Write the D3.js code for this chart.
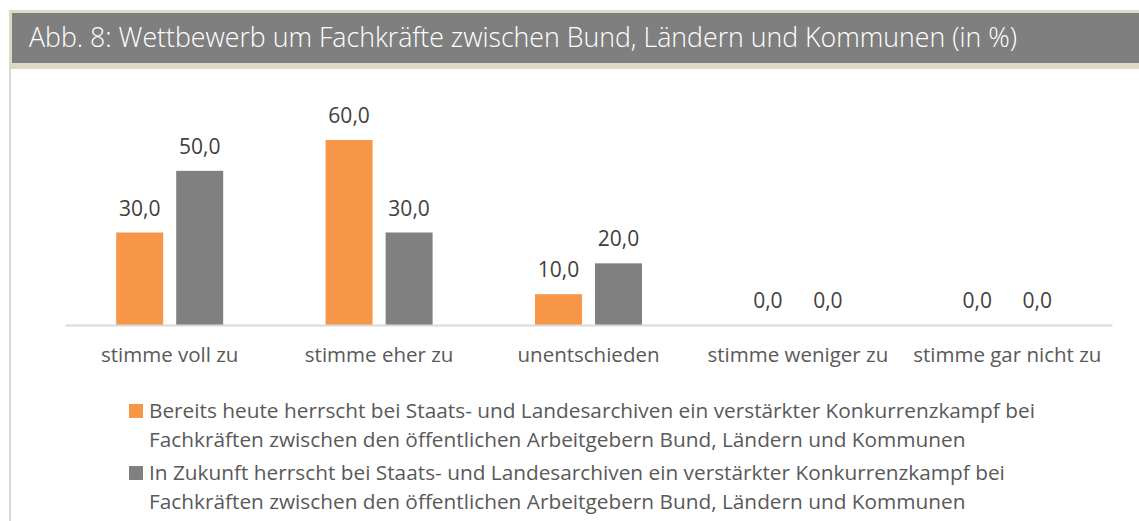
<!DOCTYPE html>
<html><head><meta charset="utf-8">
<script src="https://cdn.jsdelivr.net/npm/d3@7"></script>
<style>
html,body{margin:0;padding:0;background:#fff;}
svg{display:block;}
text{font-family:"Open Sans",sans-serif;}
</style></head>
<body>
<svg id="chart" width="1139" height="521"></svg>
<script>
const title = "Abb. 8: Wettbewerb um Fachkräfte zwischen Bund, Ländern und Kommunen (in %)";
const categories = ["stimme voll zu","stimme eher zu","unentschieden","stimme weniger zu","stimme gar nicht zu"];
const seriesKeys = ["heute","zukunft"];
const seriesLabels = [
  ["Bereits heute herrscht bei Staats- und Landesarchiven ein verstärkter Konkurrenzkampf bei",
   "Fachkräften zwischen den öffentlichen Arbeitgebern Bund, Ländern und Kommunen"],
  ["In Zukunft herrscht bei Staats- und Landesarchiven ein verstärkter Konkurrenzkampf bei",
   "Fachkräften zwischen den öffentlichen Arbeitgebern Bund, Ländern und Kommunen"]
];
const valuesHeute = [30, 60, 10, 0, 0];
const valuesZukunft = [50, 30, 20, 0, 0];
const colors = ["#F79646", "#808080"];

const svg = d3.select("#chart");

// frame
svg.append("rect").attr("x",9).attr("y",10).attr("width",1130).attr("height",59).attr("fill","#DDD9C4");
svg.append("rect").attr("x",12).attr("y",13).attr("width",1127).attr("height",50).attr("fill","#7F7F7F");
svg.append("rect").attr("x",9).attr("y",69).attr("width",2).attr("height",452).attr("fill","#D9D9D9");
svg.append("text").attr("x",29).attr("y",47).attr("fill","#fff")
  .attr("font-size",27).attr("font-weight",300).attr("textLength",988).attr("lengthAdjust","spacingAndGlyphs")
  .text(title);

const x0 = d3.scaleBand().domain(categories).range([65,1112]);
const x1 = d3.scaleBand().domain(seriesKeys).range([-53.5,53.5]).paddingInner(0.217);
const y = d3.scaleLinear().domain([0,60]).range([325,140]);

const data = categories.map((c,i)=>({cat:c, vals:[valuesHeute[i], valuesZukunft[i]]}));

const g = svg.append("g");
const groups = g.selectAll("g.cat").data(data).join("g")
  .attr("transform", d=>`translate(${x0(d.cat)+x0.bandwidth()/2},0)`);

groups.selectAll("rect").data(d=>d.vals.map((v,j)=>({k:seriesKeys[j],v,j}))).join("rect")
  .attr("x", d=>x1(d.k)).attr("width", x1.bandwidth())
  .attr("y", d=>y(d.v)).attr("height", d=>y(0)-y(d.v))
  .attr("fill", d=>colors[d.j]);

groups.selectAll("text.val").data(d=>d.vals.map((v,j)=>({k:seriesKeys[j],v,j}))).join("text")
  .attr("class","val")
  .attr("x", d=>x1(d.k)+x1.bandwidth()/2).attr("y", d=>y(d.v)-17)
  .attr("text-anchor","middle").attr("font-size",21).attr("fill","#404040")
  .text(d=>d3.format(".1f")(d.v).replace(".", ","));

// axis
const axis = d3.axisBottom(x0).tickSize(0).tickPadding(0);
const ax = svg.append("g").attr("transform","translate(0,325)").call(axis);
ax.select(".domain").attr("stroke","#D9D9D9").attr("stroke-width",2);
ax.selectAll(".tick text").attr("font-family","Open Sans").attr("font-size",20.5)
  .attr("fill","#595959").attr("dy",null).attr("y",37);

// legend
const leg = svg.append("g");
seriesLabels.forEach((lines,i)=>{
  const top = 404 + i*62;
  leg.append("rect").attr("x",129).attr("y",top).attr("width",14).attr("height",14).attr("fill",colors[i]);
  lines.forEach((ln,k)=>{
    leg.append("text").attr("x",149).attr("y",top+14+k*29)
      .attr("font-size",20.8).attr("fill","#595959").text(ln);
  });
});
</script>
</body></html>
